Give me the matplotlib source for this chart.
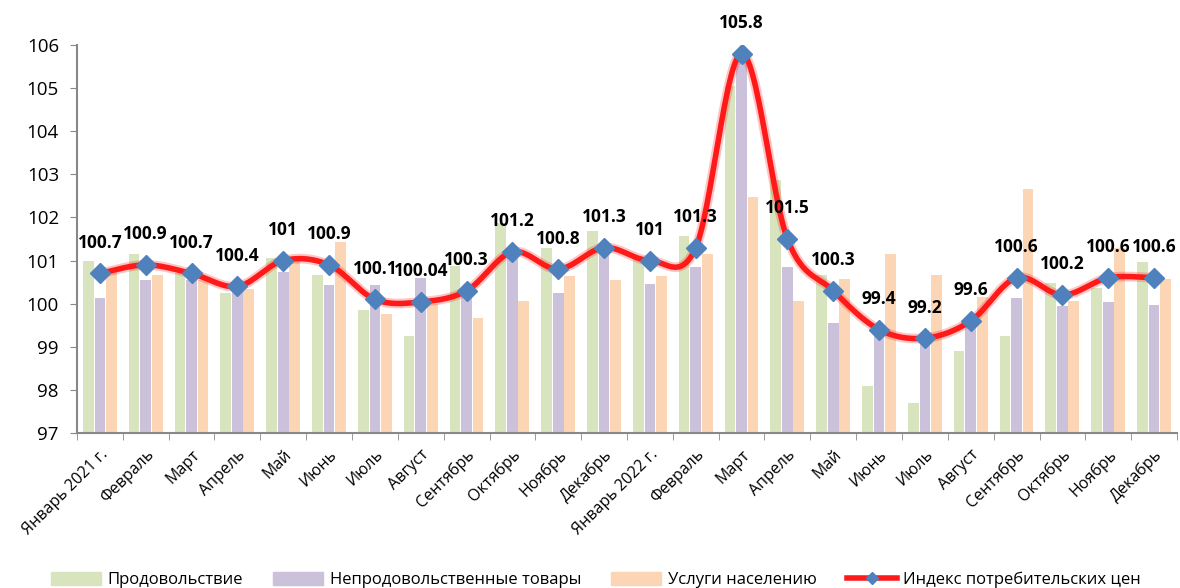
import numpy as np
import matplotlib
matplotlib.use("AGG")
import matplotlib.pyplot as plt
from matplotlib.patches import Patch
from matplotlib.lines import Line2D

plt.rcParams['font.family'] = ['Open Sans', 'DejaVu Sans']

months = ["Январь 2021 г.", "Февраль", "Март", "Апрель", "Май", "Июнь", "Июль",
          "Август", "Сентябрь", "Октябрь", "Ноябрь", "Декабрь",
          "Январь 2022 г.", "Февраль", "Март", "Апрель", "Май", "Июнь", "Июль",
          "Август", "Сентябрь", "Октябрь", "Ноябрь", "Декабрь"]

food = [101.0, 101.15, 100.7, 100.25, 101.07, 100.67, 99.85, 99.25, 100.88, 101.88,
        101.28, 101.68, 101.1, 101.56, 105.05, 102.87, 100.67, 98.1, 97.7, 98.9,
        99.25, 100.47, 100.36, 100.96]
nonfood = [100.14, 100.54, 100.55, 100.35, 100.73, 100.44, 100.44, 100.6, 100.3, 101.2,
           100.24, 101.3, 100.45, 100.84, 105.85, 100.85, 99.55, 99.3, 99.2, 99.6,
           100.14, 99.94, 100.04, 99.98]
services = [100.7, 100.67, 100.56, 100.35, 101.0, 101.44, 99.76, 100.0, 99.66, 100.06,
            100.65, 100.56, 100.65, 101.15, 102.47, 100.06, 100.58, 101.15, 100.67, 100.15,
            102.66, 100.06, 101.3, 100.58]
cpi = [100.7, 100.9, 100.7, 100.4, 101, 100.9, 100.1, 100.04, 100.3, 101.2, 100.8, 101.3,
       101, 101.3, 105.8, 101.5, 100.3, 99.4, 99.2, 99.6, 100.6, 100.2, 100.6, 100.6]
cpi_labels = ["100.7", "100.9", "100.7", "100.4", "101", "100.9", "100.1", "100.04",
              "100.3", "101.2", "100.8", "101.3", "101", "101.3", "105.8", "101.5",
              "100.3", "99.4", "99.2", "99.6", "100.6", "100.2", "100.6", "100.6"]

green = "#D7E4BD"
purple = "#CCC1DA"
orange = "#FCD5B5"
red = "#FF1A1A"
blue = "#4F81BD"


def smooth(x, y, n=30):
    # bezier smoothing like excel (catmull-rom style control points)
    x = np.asarray(x, float)
    y = np.asarray(y, float)
    xs, ys = [], []
    for i in range(len(x) - 1):
        i0 = max(i - 1, 0)
        i3 = min(i + 2, len(x) - 1)
        p0 = np.array([x[i0], y[i0]])
        p1 = np.array([x[i], y[i]])
        p2 = np.array([x[i + 1], y[i + 1]])
        p3 = np.array([x[i3], y[i3]])
        c1 = p1 + (p2 - p0) / 6.0
        c2 = p2 - (p3 - p1) / 6.0
        t = np.linspace(0, 1, n)[:, None]
        pts = ((1 - t) ** 3) * p1 + 3 * ((1 - t) ** 2) * t * c1 + 3 * (1 - t) * t ** 2 * c2 + t ** 3 * p2
        xs.extend(pts[:, 0])
        ys.extend(pts[:, 1])
    return np.array(xs), np.array(ys)


fig = plt.figure(figsize=(11.8, 5.88), dpi=100)
ax = fig.add_axes([77 / 1180, 1 - 433 / 588, 1100 / 1180, 388 / 588])

x = np.arange(len(months))
w = 0.235
base = 97
ax.bar(x - 0.255, np.array(food) - base, w, bottom=base, color=green, zorder=1)
ax.bar(x, np.array(nonfood) - base, w, bottom=base, color=purple, zorder=1)
ax.bar(x + 0.25, np.array(services) - base, w, bottom=base, color=orange, zorder=1)

sx, sy = smooth(x, cpi)
ax.plot(sx, sy, color=red, lw=7, alpha=0.25, zorder=2, solid_capstyle='round')
ax.plot(sx, sy, color=red, lw=4, zorder=3, solid_capstyle='round')
ax.plot(x, cpi, ls='none', marker='D', ms=10, color=blue, zorder=4)

for xi, yi, lab in zip(x, cpi, cpi_labels):
    ax.annotate(lab, (xi, yi), xytext=(0, 22), textcoords='offset points',
                ha='center', va='center', fontsize=12.5, fontweight='bold', zorder=5)

ax.set_xlim(-0.5, len(months) - 0.5)
ax.set_ylim(97, 106)
ax.set_yticks(range(97, 107))
ax.tick_params(axis='y', labelsize=13.5, length=5, color='#888888', pad=8)

ax.set_xticks(x)
ax.set_xticklabels(months, rotation=45, ha='right', rotation_mode='anchor', fontsize=11.5)
ax.set_xticks(np.arange(-0.5, len(months)), minor=True)
ax.tick_params(axis='x', which='major', length=0, pad=10)
ax.tick_params(axis='x', which='minor', length=5, color='#888888')

for s in ['top', 'right']:
    ax.spines[s].set_visible(False)
for s in ['left', 'bottom']:
    ax.spines[s].set_color('#888888')
    ax.spines[s].set_linewidth(1.5)

handles = [Patch(color=green, label="Продовольствие"),
           Patch(color=purple, label="Непродовольственные товары"),
           Patch(color=orange, label="Услуги населению"),
           Line2D([0], [0], color=red, lw=4, marker='D', ms=6, mfc=blue, mec=blue,
                  label="Индекс потребительских цен")]
fig.legend(handles=handles, loc='center', bbox_to_anchor=(0.505, 1 - 580 / 588), ncol=4,
           frameon=False, fontsize=12, handlelength=3.0, handleheight=0.8,
           columnspacing=1.8, handletextpad=0.4)

fig.savefig("out.png", dpi=100)
